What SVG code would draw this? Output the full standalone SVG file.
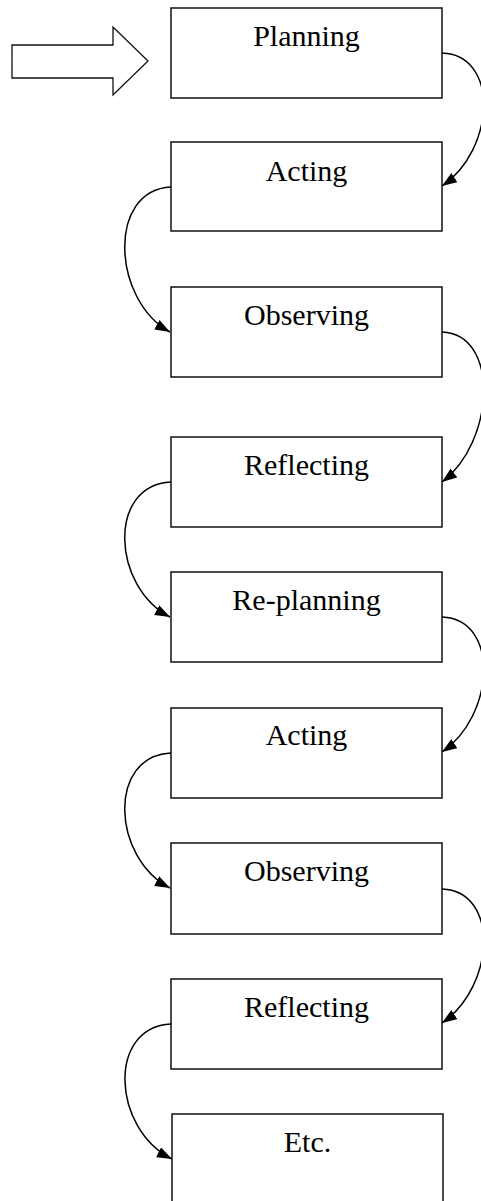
<svg xmlns="http://www.w3.org/2000/svg" width="481" height="1201" viewBox="0 0 481 1201">
<style>
.box{fill:#fff;stroke:#111;stroke-width:1.5}
.lbl{font-family:"Liberation Serif","Times New Roman",serif;font-size:30px;fill:#000;text-anchor:middle}
.con{fill:none;stroke:#000;stroke-width:1.5;marker-end:url(#ah)}
</style>
<defs>
<marker id="ah" markerUnits="userSpaceOnUse" markerWidth="16" markerHeight="12" refX="15" refY="5.5" orient="auto">
<path d="M0,0 L15,5.5 L0,11 z" fill="#000"/>
</marker>
</defs>
<rect width="481" height="1201" fill="#fff"/>
<g id="start-arrow">
<polygon points="12,45 113,45 113,27 148,61 113,95 113,78 12,78" fill="#fff" stroke="#111" stroke-width="1.3"/>
</g>
<g id="n1"><rect class="box" x="171" y="8" width="271" height="90"/><text class="lbl" x="306.5" y="46">Planning</text></g>
<g id="n2"><rect class="box" x="171" y="142" width="271" height="89"/><text class="lbl" x="306.5" y="181">Acting</text></g>
<g id="n3"><rect class="box" x="171" y="287" width="271" height="90"/><text class="lbl" x="306.5" y="325">Observing</text></g>
<g id="n4"><rect class="box" x="171" y="437" width="271" height="90"/><text class="lbl" x="306.5" y="475">Reflecting</text></g>
<g id="n5"><rect class="box" x="171" y="572" width="271" height="90"/><text class="lbl" x="306.5" y="610">Re-planning</text></g>
<g id="n6"><rect class="box" x="171" y="708" width="271" height="90"/><text class="lbl" x="306.5" y="745">Acting</text></g>
<g id="n7"><rect class="box" x="171" y="843" width="271" height="91"/><text class="lbl" x="306.5" y="881">Observing</text></g>
<g id="n8"><rect class="box" x="171" y="979" width="271" height="90"/><text class="lbl" x="306.5" y="1017">Reflecting</text></g>
<g id="n9"><rect class="box" x="172" y="1114" width="271" height="100"/><text class="lbl" x="307.5" y="1152">Etc.</text></g>
<g id="connectors">
<path class="con" d="M442,53 C500,55 495,150 442,186"/>
<path class="con" d="M171,187 C107,190 112,300 170,332"/>
<path class="con" d="M442,332 C500,334 495,442 442,482"/>
<path class="con" d="M171,482 C107,485 112,587 170,617"/>
<path class="con" d="M442,617 C500,619 495,716 442,752"/>
<path class="con" d="M171,753 C107,756 112,858 170,888"/>
<path class="con" d="M442,889 C500,891 495,987 442,1023"/>
<path class="con" d="M171,1024 C107,1027 112,1129 172,1159"/>
</g>
</svg>
